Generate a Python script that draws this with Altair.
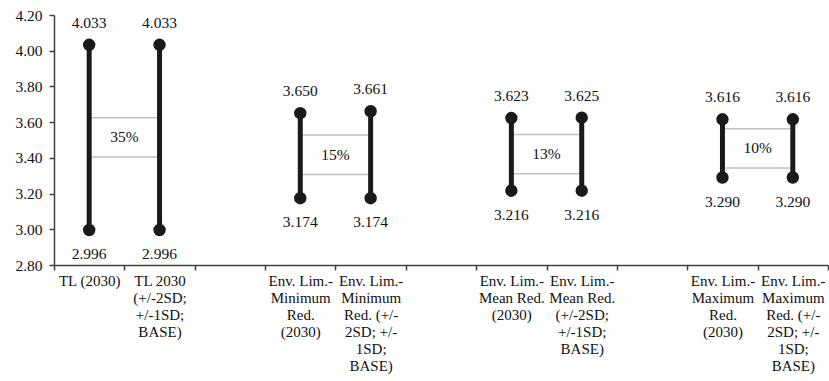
import altair as alt
import pandas as pd

# Category slots along the x axis (blank slots separate the four groups)
categories = [
    "TL (2030)",
    "TL 2030\n(+/-2SD;\n+/-1SD;\nBASE)",
    " ",
    "Env. Lim.-\nMinimum\nRed.\n(2030)",
    "Env. Lim.-\nMinimum\nRed. (+/-\n2SD; +/-\n1SD;\nBASE)",
    "  ",
    "Env. Lim.-\nMean Red.\n(2030)",
    "Env. Lim.-\nMean Red.\n(+/-2SD;\n+/-1SD;\nBASE)",
    "   ",
    "Env. Lim.-\nMaximum\nRed.\n(2030)",
    "Env. Lim.-\nMaximum\nRed. (+/-\n2SD; +/-\n1SD;\nBASE)",
]

bar_slots = [0, 1, 3, 4, 6, 7, 9, 10]
low_values = [2.996, 2.996, 3.174, 3.174, 3.216, 3.216, 3.290, 3.290]
high_values = [4.033, 4.033, 3.650, 3.661, 3.623, 3.625, 3.616, 3.616]

pair_left = [0, 3, 6, 9]
pair_right = [1, 4, 7, 10]
pct_labels = ["35%", "15%", "13%", "10%"]

y_ticks = [2.8, 3.0, 3.2, 3.4, 3.6, 3.8, 4.0, 4.2]

FONT = "Liberation Serif"
INK = "#111111"
BAR_INK = "#1a1a1a"
AXIS_GRAY = "#404040"
NUM_SIZE = 15.5
BOX_HALF = 0.11

bars = pd.DataFrame({
    "cat": [categories[i] for i in bar_slots],
    "low": low_values,
    "high": high_values,
})

boxes = pd.DataFrame({
    "left": [categories[i] for i in pair_left],
    "right": [categories[i] for i in pair_right],
    "lo": [min(low_values[bar_slots.index(a)], low_values[bar_slots.index(b)])
           for a, b in zip(pair_left, pair_right)],
    "hi": [max(high_values[bar_slots.index(a)], high_values[bar_slots.index(b)])
           for a, b in zip(pair_left, pair_right)],
    "label": pct_labels,
})

xscale = alt.Scale(domain=categories, paddingInner=0, paddingOuter=0)
yscale = alt.Scale(domain=[2.8, 4.2], nice=False, zero=False)

x_axis = alt.Axis(
    title=None,
    labelAngle=0,
    labelAlign="center",
    labelBaseline="top",
    labelExpr="split(datum.label, '\\n')",
    labelLineHeight=17,
    labelPadding=3,
    labelLimit=0,
    labelOverlap=False,
    labelFlush=False,
    labelBound=False,
    labelFontSize=15,
    tickBand="extent",
    tickSize=5,
    grid=False,
)
y_axis = alt.Axis(
    title=None,
    values=y_ticks,
    format=".2f",
    tickSize=5,
    labelPadding=7,
    labelOverlap=False,
    labelFlush=False,
    labelBound=False,
    labelFontSize=NUM_SIZE,
    grid=False,
)

base = alt.Chart(bars)
box_base = alt.Chart(boxes).transform_calculate(
    mid="(datum.lo + datum.hi) / 2",
    y0=f"(datum.lo + datum.hi) / 2 - {BOX_HALF}",
    y1=f"(datum.lo + datum.hi) / 2 + {BOX_HALF}",
)

box_rect = box_base.mark_rect(fill="white", stroke="#c0c0c0", strokeWidth=1.5).encode(
    x=alt.X("left:N", scale=xscale, axis=x_axis, bandPosition=0.5),
    x2=alt.X2("right", bandPosition=0.5),
    y=alt.Y("y0:Q", scale=yscale, axis=y_axis),
    y2="y1:Q",
)

box_text = box_base.mark_text(baseline="middle").encode(
    x=alt.X("left:N", scale=xscale, axis=x_axis, bandPosition=1),
    y=alt.Y("mid:Q", scale=yscale, axis=y_axis),
    text="label:N",
)

rules = base.mark_rule(color=BAR_INK, strokeWidth=5).encode(
    x=alt.X("cat:N", scale=xscale, axis=x_axis),
    y=alt.Y("low:Q", scale=yscale, axis=y_axis),
    y2="high:Q",
)

pts_high = base.mark_circle(color=BAR_INK, size=154, opacity=1).encode(
    x=alt.X("cat:N", scale=xscale, axis=x_axis),
    y=alt.Y("high:Q", scale=yscale, axis=y_axis),
)
pts_low = base.mark_circle(color=BAR_INK, size=154, opacity=1).encode(
    x=alt.X("cat:N", scale=xscale, axis=x_axis),
    y=alt.Y("low:Q", scale=yscale, axis=y_axis),
)

lbl_high = base.mark_text(baseline="alphabetic", dy=-17).encode(
    x=alt.X("cat:N", scale=xscale, axis=x_axis),
    y=alt.Y("high:Q", scale=yscale, axis=y_axis),
    text=alt.Text("high:Q", format=".3f"),
)
lbl_low = base.mark_text(baseline="alphabetic", dy=29).encode(
    x=alt.X("cat:N", scale=xscale, axis=x_axis),
    y=alt.Y("low:Q", scale=yscale, axis=y_axis),
    text=alt.Text("low:Q", format=".3f"),
)

chart = alt.layer(
    box_rect, rules, box_text, pts_high, pts_low, lbl_high, lbl_low
).properties(
    width=774,
    height=250,
    autosize="none",
    padding={"left": 54, "top": 15, "right": 1, "bottom": 116},
    background="white",
).configure(
    font=FONT,
).configure_text(
    font=FONT, fontSize=NUM_SIZE, color=INK,
).configure_axis(
    labelFont=FONT,
    labelColor=INK,
    domainColor=AXIS_GRAY,
    domainWidth=1.5,
    tickColor=AXIS_GRAY,
    tickWidth=1.5,
    labelOverlap=False,
).configure_view(strokeWidth=0)

chart.save("out.html", embed_options={"renderer": "svg", "actions": False})
